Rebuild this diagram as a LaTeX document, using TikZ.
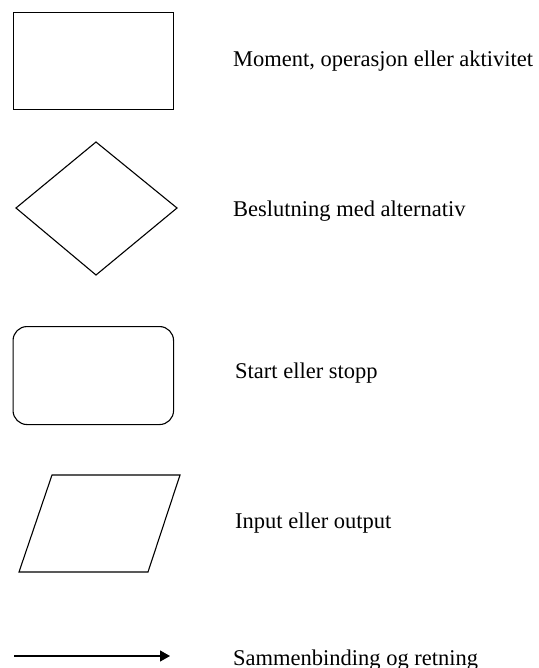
\documentclass[tikz,border=0pt]{standalone}
\usepackage{fontspec}
\setmainfont{Liberation Serif}
\usetikzlibrary{arrows.meta}
\begin{document}
\begin{tikzpicture}[x=1pt,y=-1pt,
  shapeline/.style={draw=black,line width=1.1pt},
  legendtext/.style={anchor=base west,inner sep=0pt,font=\fontsize{22.5}{27}\selectfont},
  flowarrow/.style={line width=1.2pt,-{Triangle[length=10pt,width=11pt]}}]
\useasboundingbox (0,0) rectangle (538,668);
% process box
\node[shapeline,line width=1.3pt,minimum width=160.5pt,minimum height=97pt,inner sep=0pt,anchor=north west] (process) at (12.5,12) {};
\node[legendtext] (processtxt) at (233,67) {Moment, operasjon eller aktivitet};
% decision diamond
\draw[shapeline] (16,208) -- (96,142) -- (177,208) -- (96,275) -- cycle;
\coordinate (decision) at (96,208);
\node[legendtext] (decisiontxt) at (233,216.5) {Beslutning med alternativ};
% terminator
\node[shapeline,rounded corners=14pt,minimum width=160.5pt,minimum height=98pt,inner sep=0pt,anchor=north west] (terminal) at (12.5,326) {};
\node[legendtext] (terminaltxt) at (235,378.3) {Start eller stopp};
% input/output parallelogram
\draw[shapeline] (52,475) -- (180,475) -- (148,572) -- (19,572) -- cycle;
\coordinate (io) at (100,523);
\node[legendtext] (iotxt) at (235,528) {Input eller output};
% connector
\coordinate (arrowstart) at (14,656);
\coordinate (arrowend) at (170,656);
\draw[flowarrow] (arrowstart) -- (arrowend);
\node[legendtext] (arrowtxt) at (233,665) {Sammenbinding og retning};
\end{tikzpicture}
\end{document}
